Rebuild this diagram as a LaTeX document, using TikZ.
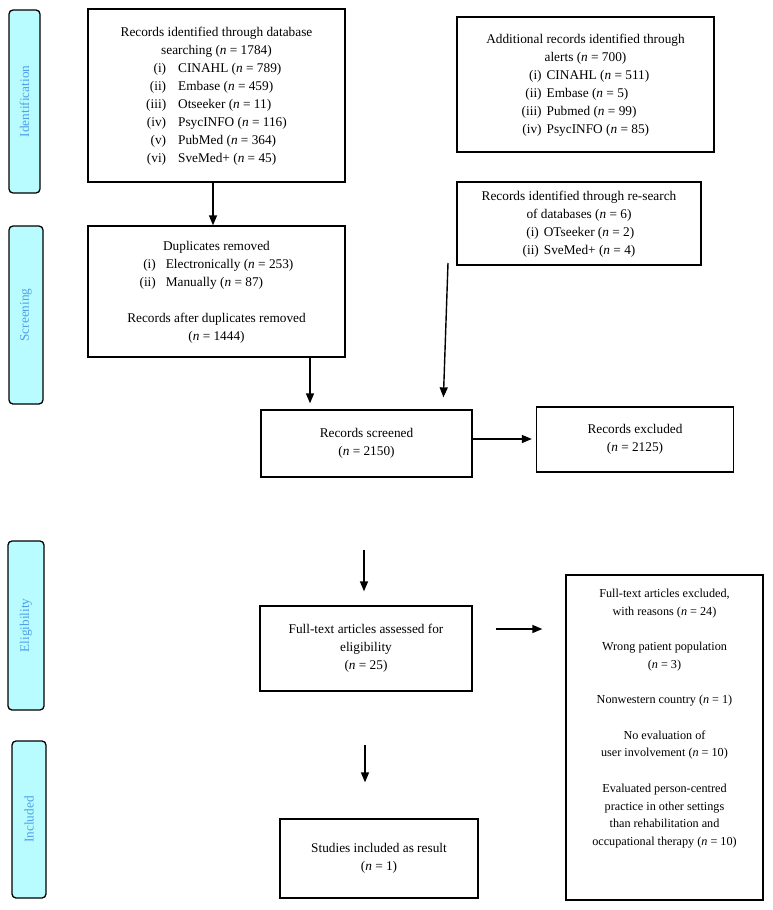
\documentclass[tikz,border=0pt]{standalone}
\usepackage{fontspec}
\setmainfont{Liberation Serif}
\usetikzlibrary{arrows.meta}
\definecolor{stagefill}{RGB}{185,252,255}
\definecolor{stagetext}{RGB}{80,158,235}
\newcommand{\nv}{\textit{n}}
\tikzset{
  box/.style={draw=black, line width=1.3pt, inner sep=0pt, align=center, font=\fontsize{13.3}{18}\selectfont},
  exbtext/.style={inner sep=0pt, align=center, font=\fontsize{12.2}{17.7}\selectfont},
  stage/.style={draw=black, fill=stagefill, line width=1.3pt, rounded corners=4pt, inner sep=0pt},
  stagelabel/.style={text=stagetext, rotate=90, inner sep=0pt, font=\fontsize{13.3}{16}\selectfont},
  arr/.style={line width=1.4pt, -{Triangle[length=10pt,width=8pt]}},
}
\begin{document}
\begin{tikzpicture}[x=1pt,y=-1pt]
\useasboundingbox (0,0) rectangle (772,910);

% stage boxes
\node[stage, minimum width=31pt, minimum height=183pt] (sid) at (24.5,101.5) {};
\node[stagelabel] (sidl) at (sid.center) {Identification};
\node[stage, minimum width=34pt, minimum height=178pt] (sscr) at (26,315) {};
\node[stagelabel] (sscrl) at (sscr.center) {Screening};
\node[stage, minimum width=36pt, minimum height=169pt] (sel) at (26,625.5) {};
\node[stagelabel] (sell) at (sel.center) {Eligibility};
\node[stage, minimum width=34pt, minimum height=157pt] (sinc) at (29,819.5) {};
\node[stagelabel] (sincl) at (sinc.center) {Included};

% boxes
\node[box, minimum width=257pt, minimum height=173pt] (db) at (216.5,95.5) {%
\begin{tabular}{@{}c@{}}
Records identified through database\\
searching (\nv{} = 1784)\\
\begin{tabular}{@{}r@{\hspace{12pt}}l@{}}
(i) & CINAHL (\nv{} = 789)\\
(ii) & Embase (\nv{} = 459)\\
(iii) & Otseeker (\nv{} = 11)\\
(iv) & PsycINFO (\nv{} = 116)\\
(v) & PubMed (\nv{} = 364)\\
(vi) & SveMed+ (\nv{} = 45)
\end{tabular}
\end{tabular}};

\node[box, minimum width=257pt, minimum height=135pt] (al) at (585.5,84.5) {%
\begin{tabular}{@{}c@{}}
Additional records identified through\\
alerts (\nv{} = 700)\\
\begin{tabular}{@{}r@{\hspace{5pt}}l@{}}
(i) & CINAHL (\nv{} = 511)\\
(ii) & Embase (\nv{} = 5)\\
(iii) & Pubmed (\nv{} = 99)\\
(iv) & PsycINFO (\nv{} = 85)
\end{tabular}
\end{tabular}};

\node[box, minimum width=244pt, minimum height=83pt] (rs) at (579,223.5) {%
\begin{tabular}{@{}c@{}}
Records identified through re-search\\
of databases (\nv{} = 6)\\
\begin{tabular}{@{}r@{\hspace{5pt}}l@{}}
(i) & OTseeker (\nv{} = 2)\\
(ii) & SveMed+ (\nv{} = 4)
\end{tabular}
\end{tabular}};

\node[box, minimum width=257pt, minimum height=131pt] (dup) at (216.5,291.5) {%
\begin{tabular}{@{}c@{}}
Duplicates removed\\
\begin{tabular}{@{}r@{\hspace{10pt}}l@{}}
(i) & Electronically (\nv{} = 253)\\
(ii) & Manually (\nv{} = 87)
\end{tabular}\\
\\
Records after duplicates removed\\
(\nv{} = 1444)
\end{tabular}};

\node[box, minimum width=211pt, minimum height=67pt] (scr) at (366.5,443.5) {Records screened\\(\nv{} = 2150)};
\node[box, minimum width=197pt, minimum height=65pt] (exc) at (635,439.5) {Records excluded\\(\nv{} = 2125)};
\node[box, minimum width=212pt, minimum height=85pt] (ft) at (366,648.5) {Full-text articles assessed for\\eligibility\\(\nv{} = 25)};
\node[box, minimum width=198pt, minimum height=79pt] (st) at (379,858.5) {Studies included as result\\(\nv{} = 1)};

\node[box, minimum width=197pt, minimum height=325pt] (exb) at (664.5,737.5) {};
\node[exbtext, anchor=north, yshift=-14.6pt] (exbt) at (exb.north) {%
Full-text articles excluded,\\
with reasons (\nv{} = 24)\\[17.7pt]
Wrong patient population\\
(\nv{} = 3)\\[17.7pt]
Nonwestern country (\nv{} = 1)\\[17.7pt]
No evaluation of\\
user involvement (\nv{} = 10)\\[17.7pt]
Evaluated person-centred\\
practice in other settings\\
than rehabilitation and\\
occupational therapy (\nv{} = 10)};

% connectors
\draw[arr] (db.south -| 213,0) -- (dup.north -| 213,0);
\draw[arr, shorten >=6pt] (dup.south -| 310,0) -- (scr.north -| 310,0);
\coordinate (rsstart) at (448,263);
\draw[arr, shorten >=12pt] (rsstart) -- (scr.north -| 443,0);
\draw[arr, shorten >=4pt] (scr.east |- 0,439) -- (exc.west |- 0,439);
\coordinate (a5s) at (364,550);
\draw[arr, shorten >=14pt] (a5s) -- (ft.north -| 364,0);
\draw[arr, shorten <=23pt, shorten >=23pt] (ft.east |- 0,629) -- (exb.west |- 0,629);
\coordinate (a7s) at (365,745);
\draw[arr, shorten >=36pt] (a7s) -- (st.north -| 365,0);
\end{tikzpicture}
\end{document}
